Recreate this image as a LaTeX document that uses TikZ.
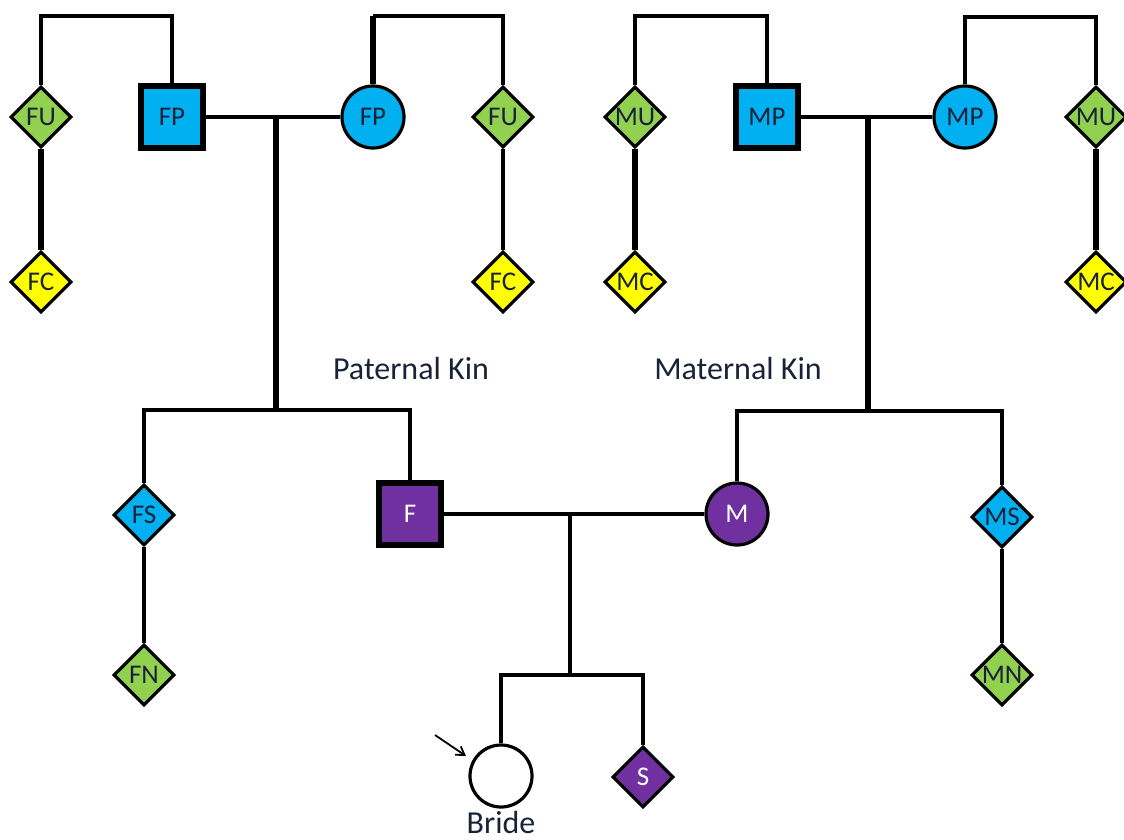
\documentclass[tikz,border=0pt]{standalone}
\usepackage{fontspec}
\setmainfont{Carlito}
\usetikzlibrary{shapes.geometric,arrows.meta}
\definecolor{kgreen}{HTML}{92D050}
\definecolor{kblue}{HTML}{00B0F0}
\definecolor{kyellow}{HTML}{FFFF00}
\definecolor{kpurple}{HTML}{7030A0}
\definecolor{ktext}{HTML}{1A2238}
\tikzset{
  base/.style={draw=black,inner sep=0pt,font=\fontsize{27}{29}\selectfont,text=ktext},
  dia/.style={base,diamond,minimum width=61pt,minimum height=61pt,line width=3.2pt},
  sq/.style={base,rectangle,minimum size=62pt,line width=5.5pt},
  circ/.style={base,circle,minimum size=62pt,line width=3.2pt},
  link/.style={line width=3.6pt},
  thick link/.style={line width=5.5pt},
  lbl/.style={font=\fontsize{32}{34}\selectfont,text=ktext},
}
\begin{document}
\begin{tikzpicture}[x=1pt,y=-1pt]
\useasboundingbox (0,0) rectangle (1124,839);
% top row
\node[dia,fill=kgreen] (FUl) at (41,117) {FU};
\node[dia,fill=kyellow] (FCl) at (41,282) {FC};
\node[sq,fill=kblue] (FPm) at (172,117) {FP};
\node[circ,fill=kblue] (FPf) at (373,117) {FP};
\node[dia,fill=kgreen] (FUr) at (503,117) {FU};
\node[dia,fill=kyellow] (FCr) at (503,282) {FC};
\node[dia,fill=kgreen] (MUl) at (635,117) {MU};
\node[dia,fill=kyellow] (MCl) at (635,282) {MC};
\node[sq,fill=kblue] (MPm) at (767,117) {MP};
\node[circ,fill=kblue] (MPf) at (965,117) {MP};
\node[dia,fill=kgreen] (MUr) at (1096,117) {MU};
\node[dia,fill=kyellow] (MCr) at (1096,282) {MC};
% labels
\node[lbl] (pk) at (411,368) {Paternal Kin};
\node[lbl] (mk) at (738,368) {Maternal Kin};
% middle row
\node[dia,fill=kblue] (FS) at (144,515) {FS};
\node[dia,fill=kgreen] (FN) at (144,675) {FN};
\node[sq,fill=kpurple,text=white] (F) at (410,514) {F};
\node[circ,fill=kpurple,text=white] (M) at (737,514) {M};
\node[dia,fill=kblue] (MS) at (1002,517) {MS};
\node[dia,fill=kgreen] (MN) at (1002,675) {MN};
% bottom
\node[circ,fill=white] (B) at (501,776) {};
\node[dia,fill=kpurple,text=white] (S) at (643,777) {S};
\node[lbl] (bl) at (501,822) {Bride};
% coordinates
\coordinate (t1) at (41,16);
\coordinate (t2) at (373,16);
\coordinate (t3) at (635,16);
\coordinate (t4) at (965,17);
\coordinate (pm) at (276,117);
\coordinate (pb) at (276,410);
\coordinate (mm) at (868,117);
\coordinate (mb) at (868,411);
\coordinate (fm) at (570,514);
\coordinate (cb) at (570,675);
\coordinate (a1) at (435,735);
\coordinate (a2) at (466,756);
% connectors
\draw[link] (FUl.north) |- (t1) -| (FPm.north);
\draw[thick link] (FUl.south) -- (FCl.north);
\draw[thick link] (FPf.north) -- (t2);
\draw[link] (t2) -| (FUr.north);
\draw[link] (FUr.south) -- (FCr.north);
\draw[link] (FPm.east) -- (FPf.west);
\draw[thick link] (pm) -- (pb);
\draw[link] (MUl.north) |- (t3) -| (MPm.north);
\draw[thick link] (MUl.south) -- (MCl.north);
\draw[link] (MPm.east) -- (MPf.west);
\draw[link] (MPf.north) |- (t4) -| (MUr.north);
\draw[thick link] (MUr.south) -- (MCr.north);
\draw[thick link] (mm) -- (mb);
\draw[link] (FS.north) |- (pb) -| (F.north);
\draw[link] (FS.south) -- (FN.north);
\draw[link] (M.north) |- (mb) -| (MS.north);
\draw[link] (MS.south) -- (MN.north);
\draw[link] (F.east) -- (M.west);
\draw[link] (fm) -- (cb);
\draw[link] (B.north) |- (cb) -| (S.north);
\draw[line width=1.8pt,-{Straight Barb[length=8pt,width=10pt]}] (a1) -- (a2);
\end{tikzpicture}
\end{document}
